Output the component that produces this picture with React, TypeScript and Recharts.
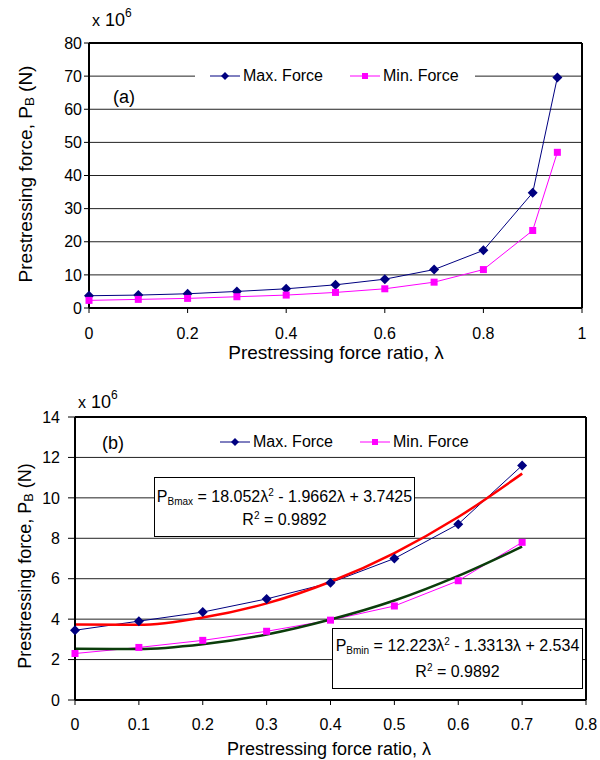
import {
	LineChart,
	Line,
	XAxis,
	YAxis,
	CartesianGrid,
	Legend,
	ReferenceLine,
	Label,
} from "recharts";

// (a) full range of prestressing force ratio
const lambdaA = [0, 0.1, 0.2, 0.3, 0.4, 0.5, 0.6, 0.7, 0.8, 0.9, 0.95];
const maxForceA = [3.7, 3.9, 4.3, 5.0, 5.8, 7.0, 8.7, 11.6, 17.4, 34.8, 69.6];
const minForceA = [2.3, 2.6, 2.9, 3.4, 3.9, 4.7, 5.8, 7.8, 11.6, 23.4, 47.0];
const xTicksA = [0, 0.2, 0.4, 0.6, 0.8, 1];
const yTicksA = [0, 10, 20, 30, 40, 50, 60, 70, 80];

// (b) zoom on 0..0.7 with quadratic trendlines
const lambdaB = [0, 0.1, 0.2, 0.3, 0.4, 0.5, 0.6, 0.7];
const maxForceB = [3.45, 3.9, 4.35, 5.0, 5.8, 7.0, 8.7, 11.6];
const minForceB = [2.3, 2.6, 2.95, 3.4, 3.95, 4.65, 5.9, 7.8];
const trendMaxB = [3.74, 3.72, 4.08, 4.78, 5.85, 7.27, 9.05, 11.2];
const trendMinB = [2.53, 2.52, 2.76, 3.24, 3.98, 4.92, 6.14, 7.59];
const xTicksB = [0, 0.1, 0.2, 0.3, 0.4, 0.5, 0.6, 0.7, 0.8];
const yTicksB = [0, 2, 4, 6, 8, 10, 12, 14];

const MAX_NAME = "Max. Force";
const MIN_NAME = "Min. Force";
const NAVY = "#000080";
const MAGENTA = "#ff00ff";

const dataA = lambdaA.map((l, i) => ({ lambda: l, max: maxForceA[i], min: minForceA[i] }));
const dataB = lambdaB.map((l, i) => ({
	lambda: l,
	max: maxForceB[i],
	min: minForceB[i],
	tmax: trendMaxB[i],
	tmin: trendMinB[i],
}));

const FONT = "'Liberation Sans', Arial, sans-serif";

function Diamond(props: any) {
	const { cx, cy, index } = props;
	if (cx == null || cy == null) return <g key={`d${index}`} />;
	const r = 5;
	return (
		<path
			key={`d${index}`}
			d={`M${cx},${cy - r}L${cx + r},${cy}L${cx},${cy + r}L${cx - r},${cy}Z`}
			fill={NAVY}
		/>
	);
}

function Square(props: any) {
	const { cx, cy, index } = props;
	if (cx == null || cy == null) return <g key={`s${index}`} />;
	return <rect key={`s${index}`} x={cx - 3.5} y={cy - 3.5} width={7} height={7} fill={MAGENTA} />;
}

function LegendBox() {
	const item = (name: string, color: string, diamond: boolean, ml: number) => (
		<div style={{ display: "flex", alignItems: "center", marginLeft: ml }}>
			<svg width={30} height={12}>
				<line x1={0} y1={6} x2={30} y2={6} stroke={color} strokeWidth={1} />
				{diamond ? (
					<path d="M15,2L19,6L15,10L11,6Z" fill={color} />
				) : (
					<rect x={12} y={3} width={6} height={6} fill={color} />
				)}
			</svg>
			<span style={{ marginLeft: 3, fontSize: 16, color: "#000" }}>{name}</span>
		</div>
	);
	return (
		<div style={{ display: "flex", alignItems: "center", height: 22, fontFamily: FONT }}>
			{item(MAX_NAME, NAVY, true, 0)}
			{item(MIN_NAME, MAGENTA, false, 27)}
		</div>
	);
}

function YTitle({ cx, cy, size }: { cx: number; cy: number; size: number }) {
	return (
		<text
			x={cx}
			y={cy}
			transform={`rotate(-90 ${cx} ${cy})`}
			textAnchor="middle"
			dominantBaseline="central"
			fontSize={size}
			fill="#000"
		>
			Prestressing force, P
			<tspan fontSize={size * 0.7} dy={4}>
				B
			</tspan>
			<tspan dy={-4}> (N)</tspan>
		</text>
	);
}

function XTitle({ cx, y, size }: { cx: number; y: number; size: number }) {
	return (
		<text x={cx} y={y} textAnchor="middle" fontSize={size} fill="#000">
			Prestressing force ratio, λ
		</text>
	);
}

const abs = (left: number, top: number, extra: any = {}) => ({
	position: "absolute" as const,
	left,
	top,
	...extra,
});

function Scale({ left, top }: { left: number; top: number }) {
	return (
		<div style={abs(left, top, { fontSize: 18, whiteSpace: "nowrap", lineHeight: "20px" })}>
			<span style={{ fontSize: 16 }}>x</span> 10
			<span style={{ fontSize: 12, position: "relative", top: -9 }}>6</span>
		</div>
	);
}

const subStyle = { fontSize: 10, position: "relative" as const, top: 3 };
const supStyle = { fontSize: 10, position: "relative" as const, top: -6 };

function EqBox(props: {
	left: number;
	top: number;
	width: number;
	height: number;
	sub: string;
	eq: string[];
	lineH: number;
	pad: number;
}) {
	const { left, top, width, height, sub, eq, lineH, pad } = props;
	const line = { height: lineH, lineHeight: `${lineH}px` };
	return (
		<div
			style={abs(left, top, {
				width,
				height,
				boxSizing: "border-box",
				border: "1.5px solid #000",
				background: "#fff",
				paddingTop: pad,
				textAlign: "center",
				fontSize: 16,
				whiteSpace: "nowrap",
			})}
		>
			<div style={line}>
				P<span style={subStyle}>{sub}</span> = {eq[0]}λ<span style={supStyle}>2</span> - {eq[1]}λ + {eq[2]}
			</div>
			<div style={line}>
				R<span style={supStyle}>2</span> = 0.9892
			</div>
		</div>
	);
}

const tickStyle = { fill: "#000", fontSize: 16 };

export default function App() {
	return (
		<div
			style={{
				position: "absolute",
				left: 0,
				top: 0,
				width: 600,
				height: 760,
				background: "#fff",
				fontFamily: FONT,
				color: "#000",
			}}
		>
			<div style={abs(0, 0)}>
				<LineChart
					width={600}
					height={380}
					data={dataA}
					margin={{ top: 43, right: 18, bottom: 0, left: 0 }}
				>
					<CartesianGrid vertical={false} stroke="#222" />
					<XAxis
						dataKey="lambda"
						type="number"
						domain={[0, 1]}
						ticks={xTicksA}
						height={72}
						tick={tickStyle}
						tickSize={5}
						tickMargin={15}
						axisLine={{ stroke: "#000", strokeWidth: 2 }}
						tickLine={{ stroke: "#000" }}
					>
						<Label content={() => <XTitle cx={336} y={359} size={19} />} />
					</XAxis>
					<YAxis
						type="number"
						domain={[0, 80]}
						ticks={yTicksA}
						width={89}
						tick={tickStyle}
						tickSize={5}
						tickMargin={2}
						axisLine={{ stroke: "#000", strokeWidth: 2 }}
						tickLine={{ stroke: "#000" }}
					>
						<Label content={() => <YTitle cx={25} cy={174} size={19} />} />
					</YAxis>
					<ReferenceLine y={80} stroke="#000" strokeWidth={2} />
					<ReferenceLine x={1} stroke="#000" strokeWidth={2} />
					<Legend
						verticalAlign="middle"
						align="center"
						content={() => <LegendBox />}
						wrapperStyle={{ left: 195, top: 65, width: 280, height: 22, paddingLeft: 15, boxSizing: "border-box", background: "#fff" }}
					/>
					<Line
						dataKey="max"
						name={MAX_NAME}
						stroke={NAVY}
						strokeWidth={1}
						dot={Diamond}
						activeDot={false}
						isAnimationActive={false}
					/>
					<Line
						dataKey="min"
						name={MIN_NAME}
						stroke={MAGENTA}
						strokeWidth={1}
						dot={Square}
						activeDot={false}
						isAnimationActive={false}
					/>
				</LineChart>
			</div>

			<div style={abs(0, 380)}>
				<LineChart
					width={600}
					height={380}
					data={dataB}
					margin={{ top: 37, right: 14, bottom: 0, left: 0 }}
				>
					<CartesianGrid vertical={false} stroke="#222" />
					<XAxis
						dataKey="lambda"
						type="number"
						domain={[0, 0.8]}
						ticks={xTicksB}
						height={60}
						tick={tickStyle}
						tickSize={5}
						tickMargin={14}
						axisLine={{ stroke: "#000", strokeWidth: 2 }}
						tickLine={{ stroke: "#000" }}
					>
						<Label content={() => <XTitle cx={329} y={375} size={18} />} />
					</XAxis>
					<YAxis
						type="number"
						domain={[0, 14]}
						ticks={yTicksB}
						width={75}
						tick={tickStyle}
						tickSize={7}
						tickMargin={8}
						axisLine={{ stroke: "#000", strokeWidth: 2 }}
						tickLine={{ stroke: "#000" }}
					>
						<Label content={() => <YTitle cx={25} cy={186} size={18} />} />
					</YAxis>
					<ReferenceLine y={14} stroke="#000" strokeWidth={2} />
					<ReferenceLine x={0.8} stroke="#000" strokeWidth={2} />
					<Legend
						verticalAlign="middle"
						align="center"
						content={() => <LegendBox />}
						wrapperStyle={{ left: 205, top: 51, width: 280, height: 22, paddingLeft: 15, boxSizing: "border-box" }}
					/>
					<Line
						dataKey="max"
						name={MAX_NAME}
						stroke={NAVY}
						strokeWidth={1}
						dot={Diamond}
						activeDot={false}
						isAnimationActive={false}
					/>
					<Line
						dataKey="min"
						name={MIN_NAME}
						stroke={MAGENTA}
						strokeWidth={1}
						dot={Square}
						activeDot={false}
						isAnimationActive={false}
					/>
					<Line
						dataKey="tmax"
						type="monotone"
						stroke="#ff0000"
						strokeWidth={2.5}
						dot={false}
						activeDot={false}
						legendType="none"
						isAnimationActive={false}
					/>
					<Line
						dataKey="tmin"
						type="monotone"
						stroke="#0b3d0b"
						strokeWidth={2.5}
						dot={false}
						activeDot={false}
						legendType="none"
						isAnimationActive={false}
					/>
				</LineChart>
			</div>

			<Scale left={92} top={10} />
			<div style={abs(113, 87, { fontSize: 18 })}>(a)</div>

			<Scale left={78} top={392} />
			<div style={abs(102, 433, { fontSize: 18 })}>(b)</div>

			<EqBox
				left={154}
				top={477}
				width={261}
				height={60}
				sub="Bmax"
				eq={["18.052", "1.9662", "3.7425"]}
				lineH={23}
				pad={7}
			/>
			<EqBox
				left={332}
				top={628}
				width={251}
				height={61}
				sub="Bmin"
				eq={["12.223", "1.3313", "2.534"]}
				lineH={26}
				pad={4}
			/>
		</div>
	);
}
